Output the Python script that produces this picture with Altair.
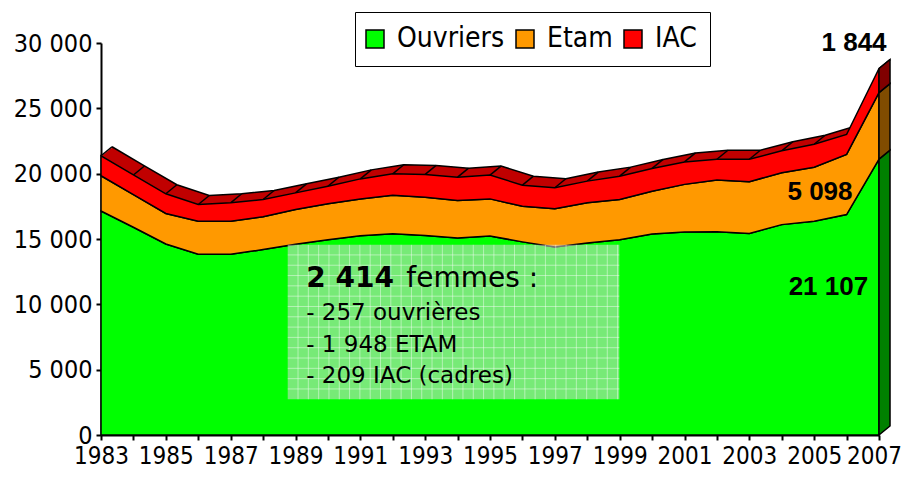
import altair as alt
import pandas as pd
import numpy as np

# ---- data ----
years = list(range(1983, 2008))
ouvriers = [17140, 15900, 14620, 13830, 13830, 14190, 14600, 14950, 15250, 15410,
            15260, 15080, 15230, 14780, 14380, 14690, 14950, 15380, 15530, 15560,
            15430, 16100, 16360, 16870, 21107]
etam = [2700, 2500, 2330, 2530, 2530, 2510, 2650, 2740, 2810, 2940,
        2940, 2860, 2840, 2730, 2930, 3080, 3070, 3270, 3650, 3960,
        3960, 3970, 4130, 4600, 5098]
iac = [1530, 1500, 1510, 1280, 1410, 1320, 1280, 1350, 1540, 1640,
       1740, 1790, 1820, 1610, 1610, 1660, 1790, 1750, 1720, 1580,
       1710, 1680, 1760, 1530, 1844]
series = ["Ouvriers", "Etam", "IAC"]
front_colors = ["#00ff00", "#ff9900", "#ff0000"]
side_colors = ["#008000", "#804c00", "#800000"]
top_color = "#c00000"
y_ticks = [0, 5000, 10000, 15000, 20000, 25000, 30000]
last_labels = ["21 107", "5 098", "1 844"]
note_lines = ["- 257 ouvrières", "- 1 948 ETAM", "- 209 IAC (cadres)"]

# depth of the 3D effect (style)
DX = 0.34
DY = 690
NCOPIES = 16

AX_FONT = "DejaVu Sans Condensed"

# ---- tables ----
rows = []
tot = []
for i, yr in enumerate(years):
    lo = 0
    for s, vals in zip(series, [ouvriers, etam, iac]):
        hi = lo + vals[i]
        rows.append(dict(x=yr, series=s, y=lo, y2=hi))
        lo = hi
    tot.append(lo)
front = pd.DataFrame(rows)

copies = pd.DataFrame([
    dict(k=k, x=yr + DX * k / NCOPIES, y=t + DY * k / NCOPIES, y2=DY * k / NCOPIES)
    for k in range(1, NCOPIES + 1) for yr, t in zip(years, tot)
])
back = pd.DataFrame(dict(x=[yr + DX for yr in years], y=[t + DY for t in tot]))
conn = pd.DataFrame(dict(x=years, y=tot, x2=[yr + DX for yr in years],
                         y2=[t + DY for t in tot]))
side_rows = []
lo = 0
for s, vals, c in zip(series, [ouvriers, etam, iac], side_colors):
    hi = lo + vals[-1]
    side_rows.append(dict(series=s, c=c, x=years[-1], y=lo, y2=hi))
    side_rows.append(dict(series=s, c=c, x=years[-1] + DX, y=lo + DY, y2=hi + DY))
    lo = hi
side = pd.DataFrame(side_rows)

xs = alt.Scale(domain=[1983, 2007], nice=False, zero=False)
ys = alt.Scale(domain=[0, 30000], nice=False)

xaxis = alt.Axis(values=years, labelExpr="datum.value % 2 == 1 ? '' + datum.value : ''",
                 tickSize=5, tickWidth=2, tickColor="black", domainColor="black",
                 domainWidth=2, labelFont=AX_FONT, labelFontSize=24, labelColor="black",
                 labelPadding=4, grid=False, title=None, labelOverlap=False,
                 labelFlush=False,
                 labelOffset={"condition": {"test": "datum.value == 2007", "value": -5},
                              "value": 0})
yaxis = alt.Axis(values=y_ticks, labelExpr="replace(format(datum.value, ','), ',', ' ')",
                 tickSize=5, tickWidth=2, tickColor="black", domainColor="black",
                 domainWidth=2, labelFont=AX_FONT, labelFontSize=25, labelColor="black",
                 labelPadding=4, grid=False, title=None)


def X(field="x", axis=True):
    return alt.X(f"{field}:Q", scale=xs, axis=xaxis if axis else None)


def Y(field="y", axis=True):
    return alt.Y(f"{field}:Q", scale=ys, axis=yaxis if axis else None, stack=None)


top_layer = alt.Chart(copies).mark_area(color=top_color, strokeWidth=0).encode(
    x=X(), y=Y(), y2="y2:Q", detail="k:N")

back_line = alt.Chart(back).mark_line(color="black", strokeWidth=1.5).encode(
    x=X(), y=Y())

conn_layer = alt.Chart(conn).mark_rule(color="black", strokeWidth=1.5).encode(
    x=X(), y=Y(), x2="x2:Q", y2="y2:Q")

front_layer = alt.Chart(front).mark_area(stroke="black", strokeWidth=1.5,
                                          opacity=1).encode(
    x=X(), y=Y(), y2="y2:Q",
    color=alt.Color("series:N", scale=alt.Scale(domain=series, range=front_colors),
                    sort=series,
                    legend=alt.Legend(orient="none", legendX=254, legendY=-31,
                                      direction="horizontal", title=None,
                                      strokeColor="black", fillColor="white",
                                      padding=13, symbolType="square", symbolSize=324,
                                      symbolStrokeColor="black", symbolStrokeWidth=1.5,
                                      symbolOpacity=1, symbolOffset=-7,
                                      labelFont=AX_FONT,
                                      labelFontSize=28, labelColor="black",
                                      columnPadding=8, labelOffset=8)),
    detail="series:N")

side_layer = alt.Chart(side).mark_area(stroke="black", strokeWidth=1.5).encode(
    x=X(), y=Y(), y2="y2:Q", color=alt.Color("c:N", scale=None), detail="series:N")

# annotation box (semi-transparent, with a fine white grid)
BX0, BX1, BY0, BY1 = 1988.76, 1998.99, 2735, 14555
box = pd.DataFrame(dict(x=[BX0], x2=[BX1], y=[BY0], y2=[BY1]))
box_layer = alt.Chart(box).mark_rect(color="#d8d8d8", opacity=0.55).encode(
    x=X(), x2="x2:Q", y=Y(), y2="y2:Q")
gx = np.arange(BX0 + 0.318, BX1, 0.318)
gy = np.arange(BY0 + 789, BY1, 789)
vgrid = pd.DataFrame(dict(x=gx, y=BY0, y2=BY1))
hgrid = pd.DataFrame(dict(x=BX0, x2=BX1, y=gy))
vgrid_layer = alt.Chart(vgrid).mark_rule(color="white", opacity=0.45, strokeWidth=1).encode(
    x=X(), y=Y(), y2="y2:Q")
hgrid_layer = alt.Chart(hgrid).mark_rule(color="white", opacity=0.45, strokeWidth=1).encode(
    x=X(), x2="x2:Q", y=Y())

note_head = pd.DataFrame(dict(x=[1989.33], y=[11358], t=["2 414"]))
head_layer = alt.Chart(note_head).mark_text(
    align="left", baseline="alphabetic", font="DejaVu Sans", fontSize=28,
    fontWeight="bold", color="black").encode(x=X(), y=Y(), text="t:N")
note_head2 = pd.DataFrame(dict(x=[1992.42], y=[11358], t=["femmes :"]))
head2_layer = alt.Chart(note_head2).mark_text(
    align="left", baseline="alphabetic", font="DejaVu Sans", fontSize=28,
    color="black").encode(x=X(), y=Y(), text="t:N")
notes = pd.DataFrame(dict(x=[1989.33] * 3, y=[8808, 6380, 3960], t=note_lines))
notes_layer = alt.Chart(notes).mark_text(
    align="left", baseline="alphabetic", font="DejaVu Sans", fontSize=23,
    color="black").encode(x=X(), y=Y(), text="t:N")

vals = pd.DataFrame(dict(x=[2005.44, 2005.18, 2006.23], y=[10722, 17998, 29360],
                         t=last_labels))
vals_layer = alt.Chart(vals).mark_text(
    align="center", baseline="alphabetic", font="Liberation Sans", fontSize=26,
    fontWeight="bold", color="black").encode(x=X(), y=Y(), text="t:N")

chart = alt.layer(
    top_layer, back_line, conn_layer, front_layer, side_layer,
    box_layer, vgrid_layer, hgrid_layer, head_layer, head2_layer, notes_layer,
    vals_layer
).properties(
    width=778, height=392, background="white",
    autosize=alt.AutoSizeParams(type="none"),
    padding={"left": 93, "top": 35, "right": 22, "bottom": 34},
).configure_view(stroke=None)

chart.save("out.html", embed_options={"renderer": "svg", "actions": False})
